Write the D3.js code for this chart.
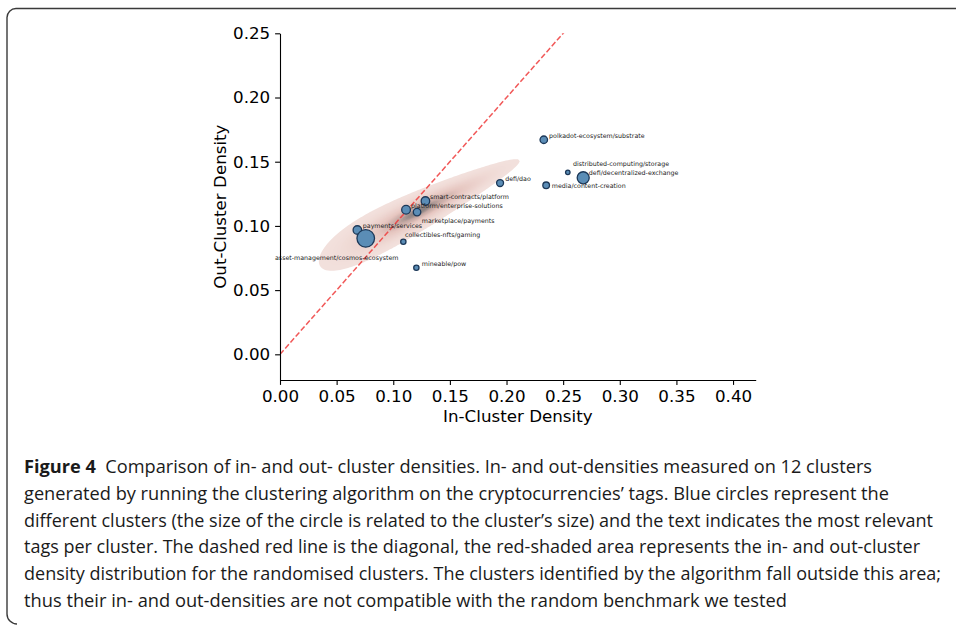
<!DOCTYPE html>
<html><head><meta charset="utf-8">
<script src="https://cdn.jsdelivr.net/npm/d3@7"></script>
<style>body{margin:0;background:#fff;} svg{display:block}</style>
</head><body>
<svg id="c" width="956" height="625"></svg>
<script>
// ---------- data ----------
const clusters = [
  "polkadot-ecosystem/substrate",
  "distributed-computing/storage",
  "defi/decentralized-exchange",
  "media/content-creation",
  "defi/dao",
  "smart-contracts/platform",
  "platform/enterprise-solutions",
  "marketplace/payments",
  "payments/services",
  "asset-management/cosmos-ecosystem",
  "collectibles-nfts/gaming",
  "mineable/pow"
];
const inDensity  = [0.2329, 0.2541, 0.2677, 0.2350, 0.1943, 0.1284, 0.1113, 0.1210, 0.0683, 0.0757, 0.1089, 0.1204];
const outDensity = [0.1671, 0.1417, 0.1375, 0.1316, 0.1334, 0.1194, 0.1126, 0.1108, 0.0968, 0.0903, 0.0877, 0.0674];
const clusterSize = [14, 5, 36, 11, 12, 18, 19, 14, 18, 77, 7, 7];
// label anchor positions (data units)
const labelIn  = [0.2376, 0.2586, 0.2727, 0.2400, 0.1988, 0.1325, 0.1157, 0.1252, 0.0731, -0.0044, 0.1104, 0.1252];
const labelOut = [0.1688, 0.1467, 0.1396, 0.1298, 0.1350, 0.1210, 0.1143, 0.1025, 0.0981, 0.0737, 0.0914, 0.0685];

const xTicks = [0.00, 0.05, 0.10, 0.15, 0.20, 0.25, 0.30, 0.35, 0.40];
const yTicks = [0.00, 0.05, 0.10, 0.15, 0.20, 0.25];
const xDomain = [0, 0.42];
const yDomain = [-0.02, 0.25];
const diagonal = [[0, 0], [1, 1]];

// randomised-cluster density distribution (shape)
const kdeMeanIn = 0.1230, kdeMeanOut = 0.1115;
const kdeSdIn = 0.0335, kdeSlope = 0.441, kdeSdOut = 0.0063, kdeSkew = 0.18;
const kdeLevels = d3.range(45).map(i => 0.03 + i * (0.97 - 0.03) / 44);

const captionLines = [
  ["Figure 4", "  Comparison of in- and out- cluster densities. In- and out-densities measured on 12 clusters"],
  ["", "generated by running the clustering algorithm on the cryptocurrencies’ tags. Blue circles represent the"],
  ["", "different clusters (the size of the circle is related to the cluster’s size) and the text indicates the most relevant"],
  ["", "tags per cluster. The dashed red line is the diagonal, the red-shaded area represents the in- and out-cluster"],
  ["", "density distribution for the randomised clusters. The clusters identified by the algorithm fall outside this area;"],
  ["", "thus their in- and out-densities are not compatible with the random benchmark we tested"]
];
const captionWidths = [848, 865, 909, 896, 917, 763];

// ---------- layout ----------
const svg = d3.select("#c");
const L = 280, R = 755.7, T = 33.3, B = 380;
const x = d3.scaleLinear().domain(xDomain).range([L, R]);
const y = d3.scaleLinear().domain(yDomain).range([B, T]);
const font = "DejaVu Sans";

// frame
svg.append("path")
  .attr("d", "M 957 8.5 H 16 A 9 9 0 0 0 7 17.5 V 614 A 10 10 0 0 0 17 624")
  .attr("fill", "none").attr("stroke", "#3a3a3a").attr("stroke-width", 1.4);

svg.append("clipPath").attr("id", "plotclip")
  .append("rect").attr("x", L).attr("y", T).attr("width", R - L).attr("height", B - T);

const plot = svg.append("g").attr("clip-path", "url(#plotclip)");

// density contours
const step = 2;
const nx = Math.ceil((R - L) / step) + 1, ny = Math.ceil((B - T) / step) + 1;
const values = new Float64Array(nx * ny);
for (let j = 0; j < ny; j++) {
  for (let i = 0; i < nx; i++) {
    const dx = x.invert(L + i * step), dy = y.invert(T + j * step);
    const zx = (dx - kdeMeanIn) / kdeSdIn;
    const sdy = kdeSdOut * Math.exp(-kdeSkew * zx);
    const zy = (dy - (kdeMeanOut + kdeSlope * (dx - kdeMeanIn))) / sdy;
    values[j * nx + i] = Math.exp(-0.5 * (zx * zx + zy * zy));
  }
}
const contours = d3.contours().size([nx, ny]).thresholds(kdeLevels)(values);
const gridPath = d3.geoPath(d3.geoTransform({
  point(px, py) { this.stream.point(L + (px - 0.5) * step, T + (py - 0.5) * step); }
}));
const kdeColor = d3.scaleLinear()
  .domain([0.03, 0.55, 0.85, 1])
  .range(["#f2e0dc", "#e6c6c0", "#c4a8a3", "#7f7979"]);
plot.append("g").selectAll("path").data(contours).join("path")
  .attr("d", gridPath)
  .attr("fill", d => kdeColor(d.value))
  .attr("stroke", "none");

// diagonal
plot.append("path")
  .attr("d", d3.line().x(d => x(d[0])).y(d => y(d[1]))(diagonal))
  .attr("fill", "none").attr("stroke", "#ee3b3b").attr("stroke-opacity", 0.85)
  .attr("stroke-width", 1.5).attr("stroke-dasharray", "5.5,2.4");

// points
const r = d3.scaleSqrt().domain([0, 77]).range([0, 8.8]);
const idx = d3.range(clusters.length);
svg.append("g").selectAll("circle").data(idx).join("circle")
  .attr("cx", i => x(inDensity[i]))
  .attr("cy", i => y(outDensity[i]))
  .attr("r", i => r(clusterSize[i]))
  .attr("fill", "#5b8db6")
  .attr("stroke", "#1c3858").attr("stroke-width", 1.3);

// labels
svg.append("g").selectAll("text").data(idx).join("text")
  .attr("x", i => x(labelIn[i]))
  .attr("y", i => y(labelOut[i]))
  .style("font-family", font).attr("font-size", 6.3).attr("fill", "#1a1a1a")
  .text(i => clusters[i]);

// axes
const xAxis = svg.append("g").attr("transform", `translate(0,${B})`)
  .call(d3.axisBottom(x).tickValues(xTicks).tickFormat(d3.format(".2f")).tickSize(4.9).tickPadding(4.9).tickSizeOuter(0));
const yAxis = svg.append("g").attr("transform", `translate(${L},0)`)
  .call(d3.axisLeft(y).tickValues(yTicks).tickFormat(d3.format(".2f")).tickSize(4.9).tickPadding(4.9).tickSizeOuter(0));
[xAxis, yAxis].forEach(g => {
  g.attr("font-size", 16.7);
  g.selectAll("text").style("font-family", font).attr("fill", "#000");
  g.selectAll("line").attr("stroke", "#000").attr("stroke-width", 1.1);
  g.select(".domain").attr("stroke", "#000").attr("stroke-width", 1.1);
});

svg.append("text").attr("x", (L + R) / 2).attr("y", 422)
  .attr("text-anchor", "middle").style("font-family", font).attr("font-size", 16.7)
  .text("In-Cluster Density");
svg.append("text").attr("transform", `translate(226,${(T + B) / 2}) rotate(-90)`)
  .attr("text-anchor", "middle").style("font-family", font).attr("font-size", 16.7)
  .text("Out-Cluster Density");

// caption
const cap = svg.append("g").style("font-family", "'Open Sans', 'Noto Sans', sans-serif")
  .attr("font-size", 17.5).attr("fill", "#1a1a1a");
captionLines.forEach((ln, k) => {
  const t = cap.append("text").attr("x", 24).attr("y", 473 + k * 26.8)
    .attr("textLength", captionWidths[k]).attr("lengthAdjust", "spacingAndGlyphs")
    .attr("xml:space", "preserve");
  if (ln[0]) t.append("tspan").attr("font-weight", "bold").text(ln[0]);
  t.append("tspan").text(ln[1]);
});
</script>
</body></html>
